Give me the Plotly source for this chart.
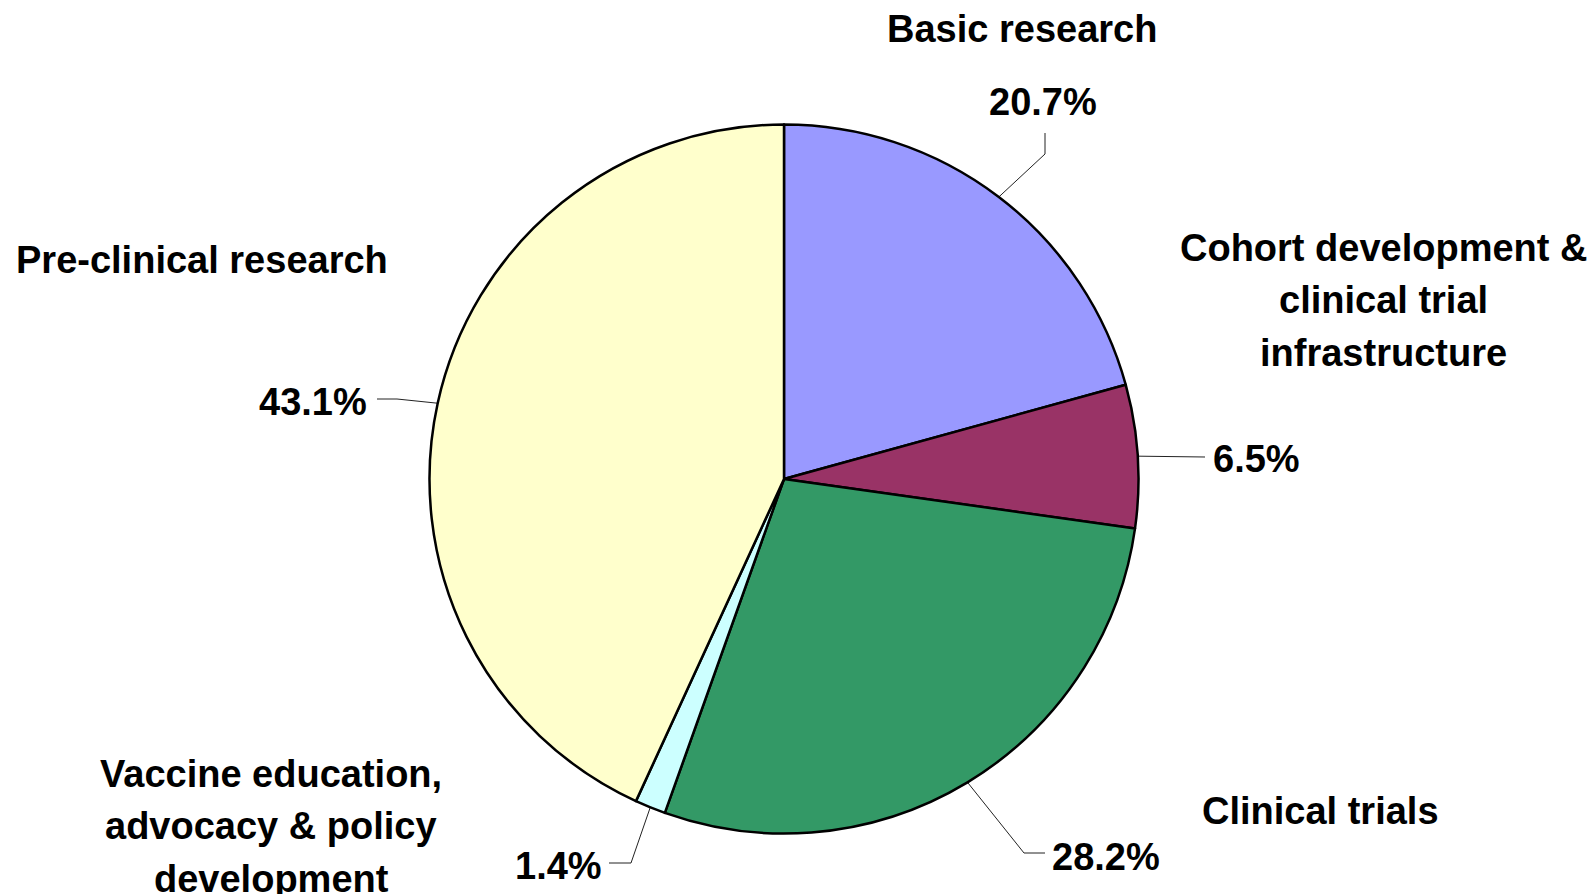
import math
import plotly.graph_objects as go

# ---- data ----
categories = ["Basic research",
              "Cohort development &<br>clinical trial<br>infrastructure",
              "Clinical trials",
              "Vaccine education,<br>advocacy & policy<br>development",
              "Pre-clinical research"]
values = [20.7, 6.5, 28.2, 1.4, 43.1]
pct_labels = ["20.7%", "6.5%", "28.2%", "1.4%", "43.1%"]
colors = ["#9999FF", "#993366", "#339966", "#CCFFFF", "#FFFFCC"]

# ---- layout constants (pixels) ----
W, H = 1596, 894
CX, CY, R = 784, 479, 354.5
FONT = dict(family="Liberation Sans, Arial, sans-serif", size=38, color="black")
LINE_SP = 52.5

# category label anchors (centre of the block)
cat_pos = [(1022, 29), (1383, 300), (1320, 811), (271, 826), (202, 260)]
# percentage label anchors and leader elbow/end points
pct_pos = [(1043, 102), (1256, 459), (1106, 857), (558, 866), (313, 402)]
elbows = [(1045, 154), None, (1024, 853), (631, 863), (397, 399)]
ends = [(1045, 133), (1205, 457), (1045, 853), (609, 863), (377, 399)]

fig = go.Figure()

fig.add_trace(go.Pie(
    values=values, labels=[c.replace("<br>", " ") for c in categories],
    sort=False, direction="clockwise", rotation=0,
    marker=dict(colors=colors, line=dict(color="black", width=2.5)),
    textinfo="none", textposition="none", hoverinfo="label+percent",
    showlegend=False,
    domain=dict(x=[(CX - R) / W, (CX + R) / W],
                y=[(H - CY - R) / H, (H - CY + R) / H]),
))

# leader lines from slice mid-angle edge point
total = sum(values)
cum = 0.0
for i, v in enumerate(values):
    mid = (cum + v / 2) / total * 2 * math.pi
    cum += v
    ex = CX + R * math.sin(mid)
    ey = CY - R * math.cos(mid)
    xs, ys = [ex], [ey]
    if elbows[i] is not None:
        xs.append(elbows[i][0]); ys.append(elbows[i][1])
    xs.append(ends[i][0]); ys.append(ends[i][1])
    fig.add_trace(go.Scatter(x=xs, y=ys, mode="lines",
                             line=dict(color="#222222", width=1),
                             hoverinfo="skip", showlegend=False))

annotations = []
for i in range(len(values)):
    lines = categories[i].split("<br>")
    n = len(lines)
    for k, ln in enumerate(lines):
        annotations.append(dict(x=cat_pos[i][0], y=cat_pos[i][1] + (k - (n - 1) / 2) * LINE_SP,
                                xref="x", yref="y",
                                text="<b>" + ln + "</b>", showarrow=False,
                                font=FONT, align="center", xanchor="center", yanchor="middle"))
    annotations.append(dict(x=pct_pos[i][0], y=pct_pos[i][1], xref="x", yref="y",
                            text="<b>" + pct_labels[i] + "</b>", showarrow=False,
                            font=FONT, align="center", xanchor="center", yanchor="middle"))

fig.update_layout(
    width=W, height=H,
    margin=dict(l=0, r=0, t=0, b=0),
    paper_bgcolor="white", plot_bgcolor="rgba(0,0,0,0)",
    xaxis=dict(range=[0, W], visible=False, fixedrange=True),
    yaxis=dict(range=[H, 0], visible=False, fixedrange=True),
    annotations=annotations,
    showlegend=False,
)

fig.write_html("out.html",
               config={"displayModeBar": False},
               post_script="document.body.style.margin='0';document.body.style.overflow='hidden';")
